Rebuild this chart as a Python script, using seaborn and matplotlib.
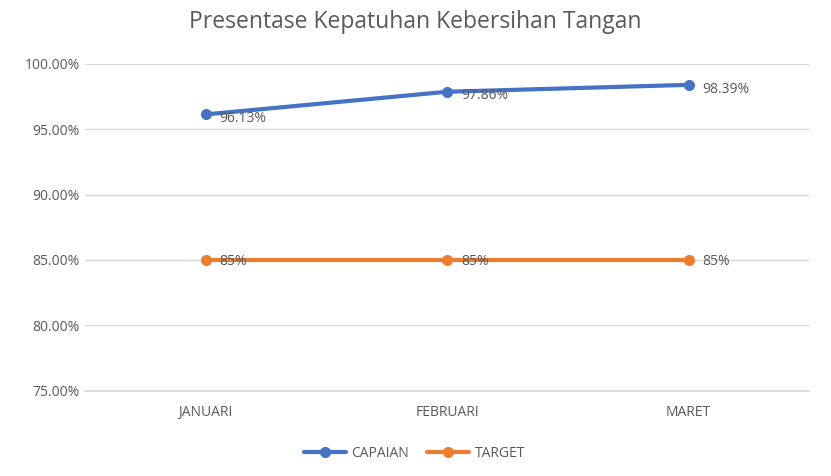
import matplotlib
matplotlib.use("Agg")
import matplotlib.pyplot as plt
import seaborn as sns
import pandas as pd
from matplotlib.ticker import FuncFormatter

months = ["JANUARI", "FEBRUARI", "MARET"]
capaian = [96.13, 97.86, 98.39]
target = [85, 85, 85]
capaian_labels = ["96.13%", "97.86%", "98.39%"]
target_labels = ["85%", "85%", "85%"]

sns.set_theme(style="white")
plt.rcParams['font.family'] = ['Open Sans', 'DejaVu Sans']
grey = "#595959"

df = pd.DataFrame({"Bulan": months * 2,
                   "Nilai": capaian + target,
                   "Seri": ["CAPAIAN"] * 3 + ["TARGET"] * 3})
df["x"] = list(range(3)) * 2

fig = plt.figure(figsize=(8.31, 4.76), dpi=100)
ax = fig.add_axes([0.102, 0.179, 0.872, 0.687])
sns.lineplot(data=df, x="x", y="Nilai", hue="Seri",
             palette={"CAPAIAN": "#4472C4", "TARGET": "#ED7D31"},
             marker="o", markersize=8, markeredgewidth=0, linewidth=3, ax=ax)

for i in range(3):
    ax.annotate(capaian_labels[i], (i, capaian[i]), xytext=(10, -3), textcoords="offset points",
                va="center", ha="left", fontsize=10, color=grey)
    ax.annotate(target_labels[i], (i, target[i]), xytext=(10, -1), textcoords="offset points",
                va="center", ha="left", fontsize=10, color=grey)

ax.set_xlim(-0.5, 2.5)
ax.set_ylim(75, 100)
ax.set_yticks([75, 80, 85, 90, 95, 100])
ax.yaxis.set_major_formatter(FuncFormatter(lambda v, p: f"{v:.2f}%"))
ax.set_xticks(range(3))
ax.set_xticklabels(months)
ax.tick_params(axis="both", colors=grey, labelsize=10, length=0)
ax.tick_params(axis="x", pad=10)
ax.grid(axis="y", color="#D9D9D9", linewidth=1)
for s in ["top", "right", "left"]:
    ax.spines[s].set_visible(False)
ax.spines["bottom"].set_color("#D9D9D9")
ax.set_xlabel("")
ax.set_ylabel("")

fig.suptitle("Presentase Kepatuhan Kebersihan Tangan", y=0.98, fontsize=16.5, color=grey)
ax.legend(loc="upper center", bbox_to_anchor=(0.455, -0.13), ncol=2, frameon=False,
          fontsize=10, labelcolor=grey, handlelength=3, columnspacing=1.3, handletextpad=0.4)

fig.savefig("out.png", dpi=100)
